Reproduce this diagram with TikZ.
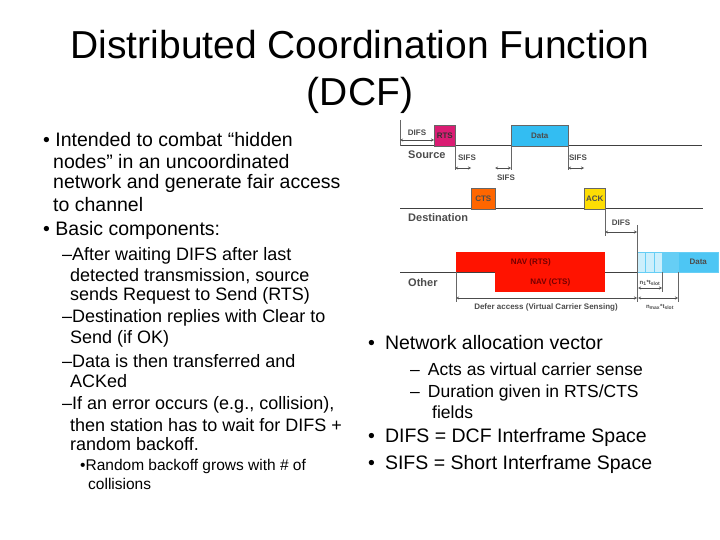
\documentclass[tikz,border=0pt]{standalone}
\usepackage{fontspec}
\setmainfont{Liberation Sans}
\begin{document}
\begin{tikzpicture}[x=1pt,y=-1pt,
 txt/.style={anchor=west,inner sep=0pt,font=\fontsize{19.5}{22}\selectfont},
 sub/.style={anchor=west,inner sep=0pt,font=\fontsize{18}{20}\selectfont},
 ssub/.style={anchor=west,inner sep=0pt,font=\fontsize{15.5}{18}\selectfont},
 rsub/.style={anchor=west,inner sep=0pt,font=\fontsize{17.5}{20}\selectfont},
 lbl/.style={inner sep=0pt,font=\bfseries\fontsize{8}{9}\selectfont,text=black!70},
 big/.style={inner sep=0pt,font=\bfseries\fontsize{11}{13}\selectfont,text=black!70},
 frame/.style={draw=black!60,line width=0.5pt,inner sep=0pt,anchor=north west,font=\bfseries\fontsize{8}{9}\selectfont,text=black!70},
 dim/.style={<->,>=stealth,line width=0.4pt,black!70},
 tick/.style={line width=0.4pt,black!60}]
\useasboundingbox (0,0) rectangle (720,540);
% title
\node[inner sep=0pt,font=\fontsize{39}{44}\selectfont] (t1) at (360,45) {Distributed Coordination Function};
\node[inner sep=0pt,font=\fontsize{39}{44}\selectfont] (t2) at (360,95) {(DCF)};
% left text
\node[txt] (l1) at (43,140) {• Intended to combat “hidden};
\node[txt] (l2) at (53,162) {nodes” in an uncoordinated};
\node[txt] (l3) at (53,183) {network and generate fair access};
\node[txt] (l4) at (53,205) {to channel};
\node[txt] (l5) at (43,230) {• Basic components:};
\node[sub] (m1) at (62,256) {–After waiting DIFS after last};
\node[sub] (m2) at (70,276) {detected transmission, source};
\node[sub] (m3) at (70,296) {sends Request to Send (RTS)};
\node[sub] (m4) at (62,318) {–Destination replies with Clear to};
\node[sub] (m5) at (70,339) {Send (if OK)};
\node[sub] (m6) at (62,361) {–Data is then transferred and};
\node[sub] (m7) at (70,381) {ACKed};
\node[sub] (m8) at (62,405) {–If an error occurs (e.g., collision),};
\node[sub] (m9) at (70,425) {then station has to wait for DIFS +};
\node[sub] (m10) at (70,444) {random backoff.};
\node[ssub] (s1) at (80,466) {•Random backoff grows with \# of};
\node[ssub] (s2) at (88,484) {collisions};
% right text
\node[txt] (r1) at (368,343) {•\hspace{10pt}Network allocation vector};
\node[rsub] (r2) at (410,369) {–\hspace{8pt}Acts as virtual carrier sense};
\node[rsub] (r3) at (410,393) {–\hspace{8pt}Duration given in RTS/CTS};
\node[rsub] (r4) at (432,412) {fields};
\node[txt] (r5) at (368,437) {•\hspace{10pt}DIFS = DCF Interframe Space};
\node[txt] (r6) at (368,464) {•\hspace{10pt}SIFS = Short Interframe Space};
% diagram baselines
\coordinate (sA) at (400,146); \coordinate (sB) at (702,146);
\coordinate (dA) at (400,209); \coordinate (dB) at (703,209);
\coordinate (oA) at (400,272); \coordinate (oB) at (703,272);
\draw[line width=1pt,black!75] (sA) -- (sB);
\draw[line width=1pt,black!75] (dA) -- (dB);
\draw[line width=1pt,black!75] (oA) -- (oB);
\node[big,anchor=west] (src) at (408,155) {Source};
\node[big,anchor=west] (dst) at (408,218) {Destination};
\node[big,anchor=west] (oth) at (408,283) {Other};
% boxes
\node[frame,fill=magenta!60!purple,minimum width=21pt,minimum height=21pt,text=black!80] (rts) at (434,125) {RTS};
\node[frame,fill=cyan!80,minimum width=57pt,minimum height=21pt] (data) at (511,125) {Data};
\node[frame,fill=orange!80!red,minimum width=24pt,minimum height=21pt] (cts) at (471,188) {CTS};
\node[frame,fill=yellow!80!orange,minimum width=21pt,minimum height=21pt] (ack) at (584,188) {ACK};
\node[frame,draw=none,fill=red!85!orange,minimum width=149pt,minimum height=20pt,text=red!45!black] (navr) at (456,252) {NAV (RTS)};
\node[frame,draw=none,fill=red!85!orange,minimum width=110pt,minimum height=20pt,text=red!45!black] (navc) at (495,272) {NAV (CTS)};
% slots
\foreach \i in {0,1,2}{\node[frame,draw=cyan!60,fill=cyan!20,minimum width=8.3pt,minimum height=20pt] (a\i) at (637+8.3*\i,252) {};}
\foreach \i in {0,1}{\node[frame,draw=cyan!60,fill=cyan!60,minimum width=8pt,minimum height=20pt] (b\i) at (662+8*\i,252) {};}
\node[frame,draw=cyan!60,fill=cyan!70,minimum width=40pt,minimum height=20pt] (odata) at (678,252) {Data};
% ticks and dims
\draw[tick] (400,120) -- (400,146);
\node[lbl] (difs1) at (417,133) {DIFS};
\draw[dim] (400,140) -- (434,140);
\draw[tick] (455,146) -- (455,170);
\draw[tick] (511,146) -- (511,170);
\draw[tick] (568,146) -- (568,170);
\draw[dim] (455,168) -- (471,168); \node[lbl] (sf1) at (467,158) {SIFS};
\draw[dim] (495,168) -- (511,168); \node[lbl] (sf2) at (506,178) {SIFS};
\draw[dim] (568,168) -- (584,168); \node[lbl] (sf3) at (578,158) {SIFS};
\draw[tick] (605,209) -- (605,236);
\draw[tick] (637,225) -- (637,302);
\draw[dim] (605,232) -- (637,232); \node[lbl] (difs2) at (621,223) {DIFS};
\draw[tick] (456,272) -- (456,302);
\draw[dim] (456,298) -- (637,298);
\node[lbl] (defer) at (546,307) {Defer access (Virtual Carrier Sensing)};
\draw[tick] (662,272) -- (662,292);
\draw[tick] (678,272) -- (678,302);
\draw[dim] (638,288) -- (662,288);
\node[lbl,font=\bfseries\fontsize{6}{7}\selectfont] (nt) at (650,283) {n\textsubscript{1}*t\textsubscript{slot}};
\draw[dim] (638,298) -- (678,298);
\node[lbl,font=\bfseries\fontsize{6}{7}\selectfont] (nmax) at (660,307) {n\textsubscript{max}*t\textsubscript{slot}};
\end{tikzpicture}
\end{document}
